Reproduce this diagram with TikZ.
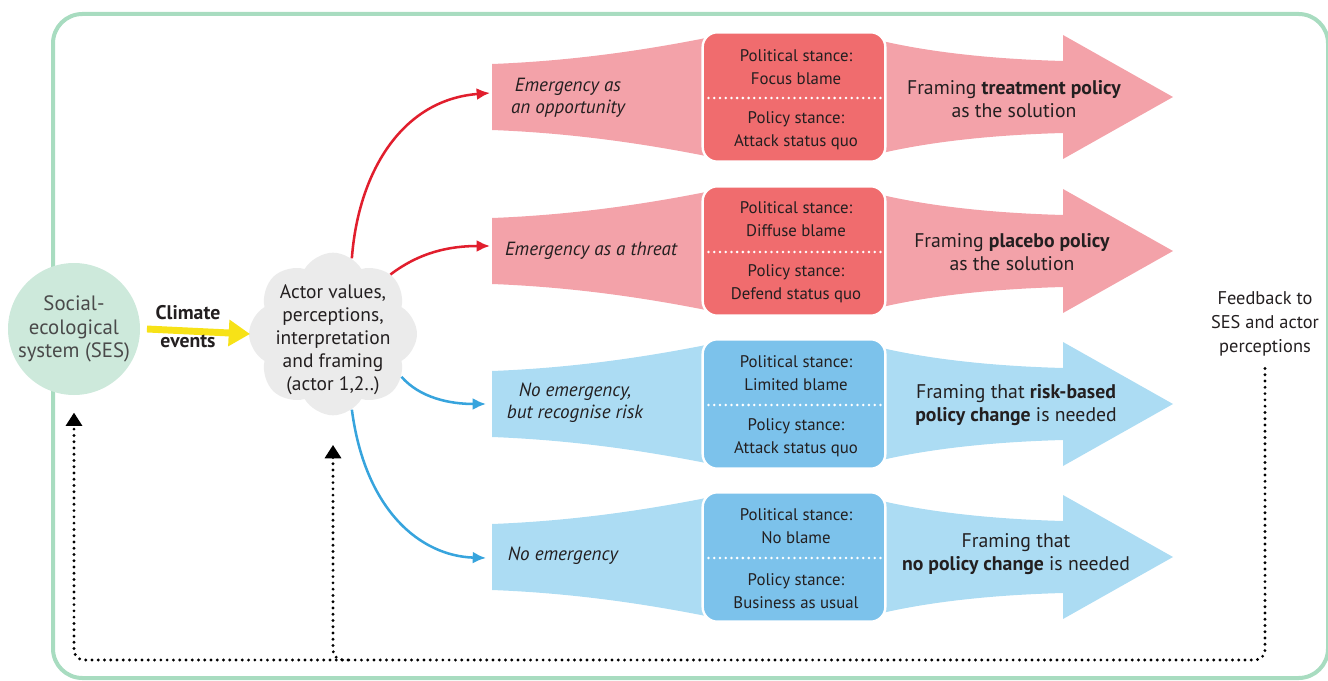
\documentclass[tikz,border=0pt]{standalone}
\usepackage{fontspec}
\setmainfont{PT Sans}
\usetikzlibrary{shapes.symbols,arrows.meta,calc}
\definecolor{framec}{HTML}{A8DCC0}
\definecolor{sesc}{HTML}{CDE9DB}
\definecolor{cloudc}{HTML}{EBEBEB}
\definecolor{yelc}{HTML}{F7E217}
\definecolor{redlt}{HTML}{F3A2A9}
\definecolor{reddk}{HTML}{F06C6E}
\definecolor{bluelt}{HTML}{ACDCF3}
\definecolor{bluedk}{HTML}{7CC2EB}
\definecolor{redarr}{HTML}{E11E2D}
\definecolor{bluearr}{HTML}{37A4DD}
\definecolor{textc}{HTML}{231F20}
\definecolor{sestext}{HTML}{4A4A4A}
\newcommand{\rowshapes}[4]{%
 \fill[#2] (492,{#1-33}) .. controls (570,{#1-36}) and (640,{#1-46}) .. (706,{#1-59}) -- (706,{#1+59}) .. controls (640,{#1+46}) and (570,{#1+36}) .. (492,{#1+33}) -- cycle;
 \fill[#2] (882,{#1-56}) .. controls (930,{#1-45}) and (990,{#1-38}) .. (1063,{#1-36}) -- (1063,{#1-62}) -- (1173,#1) -- (1063,{#1+62}) -- (1063,{#1+36}) .. controls (990,{#1+38}) and (930,{#1+45}) .. (882,{#1+56}) -- cycle;
 \node[rowbox, fill=#3] (box#4) at (794,#1) {};
 \draw[sepline] ($(box#4.west)+(7,1)$) -- ($(box#4.east)+(-3,1)$);
}
\begin{document}
\begin{tikzpicture}[x=0.75pt,y=-0.75pt,
  txt/.style={font=\fontsize{12.6}{17.25}\selectfont, text=textc, align=center, inner sep=0pt},
  frm/.style={font=\fontsize{14.8}{17}\selectfont, text=textc, align=center, inner sep=0pt},
  lft/.style={font=\fontsize{14.3}{16.5}\selectfont\itshape, text=textc, align=center, inner sep=0pt},
  rowbox/.style={draw=white, line width=1.8pt, rounded corners=11pt, minimum width=137pt, minimum height=97pt, inner sep=0pt},
  sepline/.style={draw=white, line width=2.1pt, line cap=round, dash pattern=on 0pt off 4.3pt},
  redcon/.style={draw=redarr, line width=1.9pt, -{Latex[length=10pt,width=9pt]}},
  bluecon/.style={draw=bluearr, line width=1.9pt, -{Latex[length=10pt,width=9pt]}},
  fbline/.style={draw=black, line width=2.4pt, line cap=round, dash pattern=on 0pt off 4.7pt, -{Triangle[length=10pt,width=12pt]}}
]
\useasboundingbox (0,0) rectangle (1328,681);
% frame
\draw[framec, line width=3pt, rounded corners=22pt] (53,14) rectangle (1328,678);
% SES
\node[circle, fill=sesc, minimum size=99pt, inner sep=0pt, text=sestext, font=\fontsize{15.6}{17.6}\selectfont, align=center] (ses) at (74,329) {Social-\\ecological\\system (SES)};
% cloud
\node[cloud, cloud puffs=8, cloud puff arc=120, aspect=1, fill=cloudc, minimum width=126pt, minimum height=122pt, inner sep=0pt] (cloud) at (333,334) {};
\node[txt, font=\fontsize{14.6}{17.25}\selectfont] (cloudtxt) at (333,340) {Actor values,\\perceptions,\\interpretation\\and framing\\(actor 1,2..)};
% climate events
\draw[yelc, line width=5.2pt, -{Triangle[length=16pt,width=19pt]}] ([xshift=5pt]ses.east) -- ([xshift=1pt]cloud.west);
\node[txt, font=\fontsize{14.8}{21}\selectfont\bfseries] (clim) at (188,327) {Climate\\events};
% rows
\rowshapes{97}{redlt}{reddk}{1}
\rowshapes{251}{redlt}{reddk}{2}
\rowshapes{404}{bluelt}{bluedk}{3}
\rowshapes{557}{bluelt}{bluedk}{4}
% row texts
\node[lft] (t1) at (568,98) {Emergency as\\an opportunity};
\node[txt] (p1a) at (796,67) {Political stance:\\Focus blame};
\node[txt] (p1b) at (796,131) {Policy stance:\\Attack status quo};
\node[frm] (f1) at (1014,99) {Framing \textbf{treatment policy}\\as the solution};
\node[lft] (t2) at (591,251) {Emergency as a threat};
\node[txt] (p2a) at (796,219) {Political stance:\\Diffuse blame};
\node[txt] (p2b) at (796,284) {Policy stance:\\Defend status quo};
\node[frm] (f2) at (1012,252) {Framing \textbf{placebo policy}\\as the solution};
\node[lft] (t3) at (575,403) {No emergency,\\but recognise risk};
\node[txt] (p3a) at (796,373) {Political stance:\\Limited blame};
\node[txt] (p3b) at (796,438) {Policy stance:\\Attack status quo};
\node[frm] (f3) at (1016,405) {Framing that \textbf{risk-based}\\\textbf{policy change} is needed};
\node[lft] (t4) at (563,556) {No emergency};
\node[txt] (p4a) at (796,526) {Political stance:\\No blame};
\node[txt] (p4b) at (796,591) {Policy stance:\\Business as usual};
\node[frm] (f4) at (1016,554) {Framing that\\\textbf{no policy change} is needed};
% connectors
\coordinate (in1) at (490,93);
\coordinate (in2) at (490,246);
\coordinate (in3) at (486,404);
\coordinate (in4) at (486,558);
\draw[redcon] (cloud.76) .. controls (358,175) and (400,100) .. (in1);
\draw[redcon] (cloud.46) .. controls (420,252) and (450,246) .. (in2);
\draw[bluecon] (cloud.-32) .. controls (420,398) and (450,404) .. (in3);
\draw[bluecon] (cloud.-76) .. controls (365,510) and (420,556) .. (in4);
% feedback
\node[txt, font=\fontsize{13.8}{18}\selectfont] (fb) at (1265,324) {Feedback to\\SES and actor\\perceptions};
\coordinate (corner) at (74,660);
\draw[fbline, rounded corners=7.5pt] ([yshift=-9pt]fb.south) |- (corner) -- ([yshift=-13pt]ses.south);
\draw[fbline, rounded corners=7.5pt] (348,660) -| ([yshift=-22pt]cloud.south);
\end{tikzpicture}
\end{document}
